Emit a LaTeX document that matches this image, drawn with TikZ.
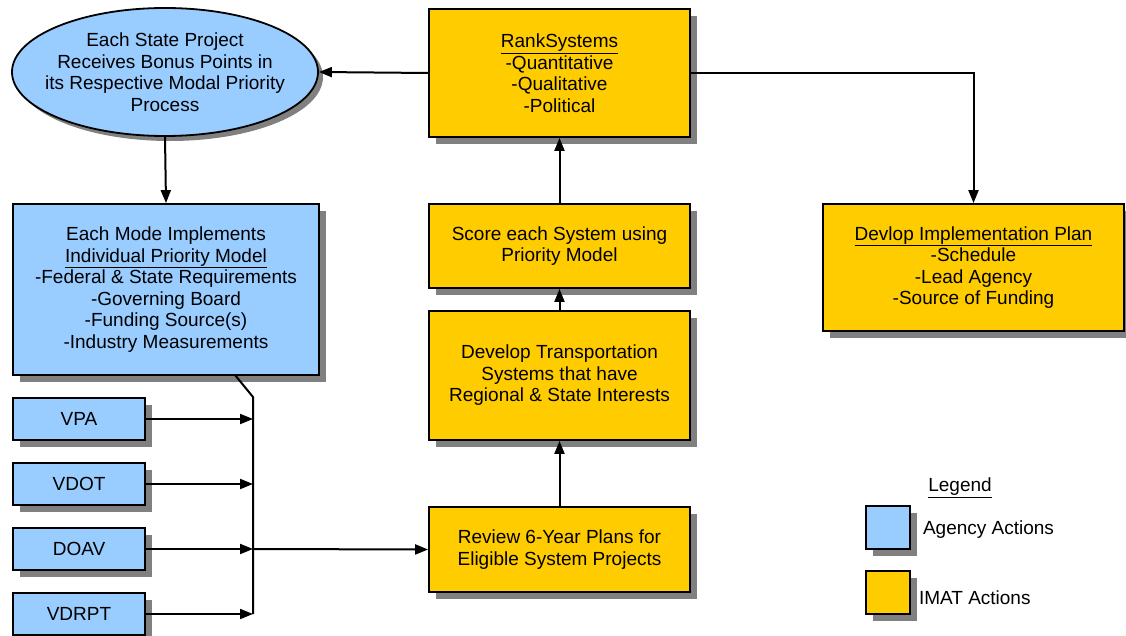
\documentclass[tikz,border=0pt]{standalone}
\usepackage{fontspec}
\setmainfont{Liberation Sans}
\usetikzlibrary{shapes.geometric,shadows,arrows.meta}
\definecolor{agency}{HTML}{99CCFF}
\definecolor{imat}{HTML}{FFCC00}
\definecolor{shade}{HTML}{808080}
\begin{document}
\begin{tikzpicture}
% 1 unit = 1 pixel of the 1126x636 sheet, y runs down
[x=1pt,y=-1pt,line width=2pt,
 every node/.style={font=\fontsize{19}{21.5}\selectfont,align=center,inner sep=0pt},
 boxshadow/.style={drop shadow={shadow xshift=7pt,shadow yshift=-7pt,fill=shade,opacity=1}},
 agencybox/.style={draw,fill=agency,line width=1.8pt,boxshadow},
 imatbox/.style={draw,fill=imat,line width=1.8pt,boxshadow},
 arr/.style={-{Triangle[length=13pt,width=10pt]}}]
\useasboundingbox (0,0) rectangle (1126,636);
% agency side
% -16 = shrink the text box so the ellipse keeps its 306 width
\node[ellipse,draw,fill=agency,line width=1.8pt,inner xsep=-16pt,minimum width=306pt,minimum height=128pt,
  drop shadow={shadow xshift=5pt,shadow yshift=-5pt,fill=shade,opacity=1}]
  (bonus) at (165,72) {Each State Project\\Receives Bonus Points in\\its Respective Modal Priority\\Process};
\node[agencybox,minimum width=306pt,minimum height=171pt] (mode) at (166,289.5)
  {Each Mode Implements\\\underline{Individual Priority Model}\\-Federal \& State Requirements\\-Governing Board\\-Funding Source(s)\\-Industry Measurements};
% 65 = row pitch of the small boxes
\foreach \nm/\txt [count=\i from 0] in {vpa/VPA,vdot/VDOT,doav/DOAV,vdrpt/VDRPT}{
  \node[agencybox,minimum width=132pt,minimum height=42pt] (\nm) at (79,{419+\i*65}) {\txt};
}
% imat side
\node[imatbox,minimum width=261pt,minimum height=128pt] (rank) at (559.5,73)
  {\underline{RankSystems}\\-Quantitative\\-Qualitative\\-Political};
\node[imatbox,minimum width=261pt,minimum height=84pt] (score) at (559.5,246)
  {Score each System using\\Priority Model};
\node[imatbox,minimum width=261pt,minimum height=129pt] (develop) at (559.5,375.5)
  {Develop Transportation\\Systems that have\\Regional \& State Interests};
\node[imatbox,minimum width=261pt,minimum height=85pt] (review) at (559.5,549.5)
  {Review 6-Year Plans for\\Eligible System Projects};
\node[imatbox,minimum width=301pt,minimum height=127pt] (plan) at (973.5,267.5)
  {\underline{Devlop Implementation Plan}\\-Schedule\\-Lead Agency\\-Source of Funding};
% legend
\node (legend) at (960,488) {\underline{Legend}};
\node[agencybox,minimum width=44pt,minimum height=43pt] (keyagency) at (888,527.5) {};
\node[anchor=west] (agencytxt) at (922,530) {Agency Actions};
\node[imatbox,minimum width=44pt,minimum height=43pt] (keyimat) at (888,592.5) {};
\node[anchor=west] (imattxt) at (918,598) {IMAT Actions};
% connectors
\draw[arr] (rank.west) -- (bonus.east);
\draw[arr] (rank.east) -| (plan.north);
\draw[arr] (bonus.south) -- (mode.north);
\draw[arr] (score.north) -- (rank.south);
\draw[arr] (develop.north) -- (score.south);
\draw[arr] (review.north) -- (develop.south);
% bus from the mode box down past the four agencies
\coordinate (split) at (235,375);
\coordinate (bustop) at (253,397);
\coordinate (busbot) at (253,614);
\draw (split) -- (bustop) -- (busbot);
\foreach \nm in {vpa,vdot,doav,vdrpt}
  \draw[arr] (\nm.east) -- (\nm.east -| bustop);
\draw[arr] (doav.east -| bustop) -- (review.west);
\end{tikzpicture}
\end{document}
